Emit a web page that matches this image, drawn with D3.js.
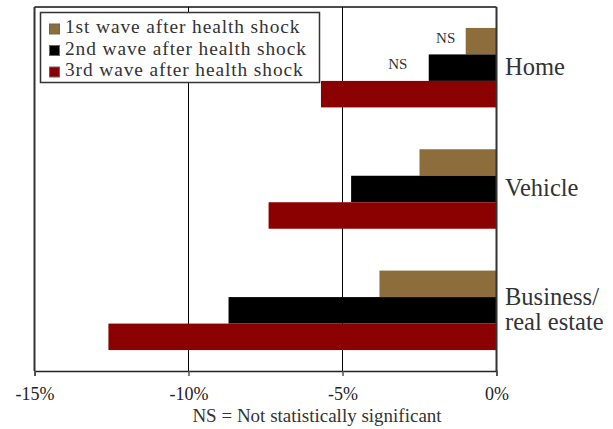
<!DOCTYPE html>
<html><head><meta charset="utf-8">
<script src="https://cdn.jsdelivr.net/npm/d3@7"></script>
<style>
html,body{margin:0;padding:0;background:#fff;}
svg{display:block;}
svg text{font-family:'Liberation Serif','Tinos','Times New Roman','DejaVu Serif',serif !important;}
</style></head>
<body><svg id="c" width="613" height="429"></svg>
<script>
const categories = ["Home", "Vehicle", "Business/\nreal estate"];
const seriesNames = ["1st wave after health shock", "2nd wave after health shock", "3rd wave after health shock"];
const wave1 = [-1.0, -2.5, -3.8];
const wave2 = [-2.2, -4.72, -8.7];
const wave3 = [-5.7, -7.4, -12.6];
const nsFlags = [[true, true, false], [false, false, false], [false, false, false]]; // [category][series]
const tickValues = [-15, -10, -5, 0];
const colors = ["#8c6d3b", "#000000", "#8b0000"];

const svg = d3.select("#c");
const L = 34.5, R = 496.5, T = 7, B = 371;
const x = d3.scaleLinear().domain([-15, 0]).range([L, R]);
const y0 = d3.scaleBand().domain(categories).range([T, B]).paddingInner(0.345).paddingOuter(0.1725);
const y1 = d3.scaleBand().domain(d3.range(3)).range([0, y0.bandwidth()]);
const series = [wave1, wave2, wave3];
const nsGap = [20, 31, 20];

// gridlines
svg.append("g").selectAll("line").data([-10, -5]).join("line")
  .attr("x1", d => x(d)).attr("x2", d => x(d)).attr("y1", T).attr("y2", B)
  .attr("stroke", "#000").attr("stroke-width", 1);

// bars
categories.forEach((c, ci) => {
  series.forEach((s, si) => {
    svg.append("rect")
      .attr("x", x(s[ci])).attr("width", x(0) - x(s[ci]))
      .attr("y", y0(c) + y1(si)).attr("height", y1.bandwidth())
      .attr("fill", colors[si]);
    if (nsFlags[ci][si]) {
      svg.append("text").attr("x", x(s[ci]) - nsGap[si]).attr("y", y0(c) + y1(si) + y1.bandwidth()/2 - 2)
        .attr("text-anchor", "middle").attr("dominant-baseline", "middle")
        .attr("font-size", 15).attr("fill", "#333").text("NS");
    }
  });
});

// frame
svg.append("line").attr("x1", L).attr("x2", R).attr("y1", T).attr("y2", T).attr("stroke", "#111").attr("stroke-width", 1.5);
svg.append("line").attr("x1", L).attr("x2", L).attr("y1", T).attr("y2", B).attr("stroke", "#333").attr("stroke-width", 2);
svg.append("line").attr("x1", R).attr("x2", R).attr("y1", T).attr("y2", B).attr("stroke", "#333").attr("stroke-width", 2);

// x axis
const xAxis = d3.axisBottom(x).tickValues(tickValues).tickSize(5).tickFormat(d => d + "%");
const gx = svg.append("g").attr("transform", `translate(0,${B})`).call(xAxis);
gx.attr("font-family", null).attr("font-size", null);
gx.select(".domain").attr("stroke", "#222").attr("stroke-width", 1.5);
gx.selectAll(".tick line").attr("stroke", "#555").attr("stroke-width", 1.5);
gx.selectAll(".tick text").attr("font-size", 18).attr("fill", "#222").attr("y", 29).attr("dy", "0");

// category labels
categories.forEach(c => {
  const lines = c.split("\n");
  const cy = y0(c) + y0.bandwidth()/2 + 1.5;
  const lh = 25;
  lines.forEach((t, i) => {
    svg.append("text").attr("x", 505).attr("y", cy + (i - (lines.length - 1)/2) * lh)
      .attr("dominant-baseline", "middle").attr("font-size", 24.5).attr("fill", "#333").text(t);
  });
});

// legend
const lg = svg.append("g");
lg.append("rect").attr("x", 40.5).attr("y", 12.5).attr("width", 279).attr("height", 70)
  .attr("fill", "#fff").attr("stroke", "#333").attr("stroke-width", 1.5);
seriesNames.forEach((n, i) => {
  const cy = 29 + i * 21.5;
  lg.append("rect").attr("x", 49.5).attr("y", cy - 5).attr("width", 10).attr("height", 10)
    .attr("fill", colors[i]).attr("stroke", "#666").attr("stroke-width", 1);
  lg.append("text").attr("x", 65).attr("y", cy).attr("dominant-baseline", "middle")
    .attr("font-size", 19.4).attr("letter-spacing", 0.9).attr("fill", "#333").text(n);
});

// footnote
svg.append("text").attr("x", 317).attr("y", 418).attr("text-anchor", "middle")
  .attr("dominant-baseline", "middle").attr("font-size", 19).attr("fill", "#333")
  .text("NS = Not statistically significant");
</script></body></html>
